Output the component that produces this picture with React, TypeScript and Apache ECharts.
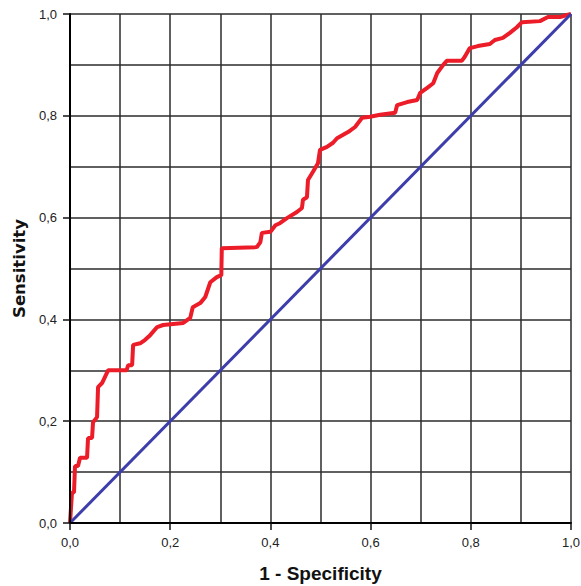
import React, { useEffect, useRef } from "react";
import * as echarts from "echarts";

const fpr = [
  0, 0.004, 0.008, 0.01, 0.016, 0.02, 0.034, 0.036, 0.044, 0.046, 0.054, 0.056, 0.064, 0.076, 0.113, 0.116, 0.124, 0.126, 0.14, 0.15,
  0.16, 0.174, 0.186, 0.226, 0.24, 0.245, 0.26, 0.27, 0.28, 0.293, 0.302, 0.303, 0.373, 0.38, 0.383, 0.4, 0.41, 0.419,
  0.433, 0.453, 0.463, 0.465, 0.473, 0.475, 0.485, 0.495, 0.499, 0.513, 0.525, 0.533, 0.555, 0.569, 0.583, 0.599, 0.619, 0.649, 0.653, 0.673, 0.693,
  0.699, 0.713, 0.725, 0.733, 0.745, 0.752, 0.782, 0.788, 0.798, 0.814, 0.838, 0.848, 0.864, 0.878, 0.892, 0.902, 0.938, 0.954, 0.978, 0.992, 1,
];
const tpr = [
  0, 0.06, 0.06, 0.112, 0.112, 0.128, 0.128, 0.167, 0.167, 0.198, 0.208, 0.267, 0.275, 0.3, 0.3, 0.31, 0.31, 0.35, 0.353, 0.36,
  0.369, 0.385, 0.389, 0.393, 0.403, 0.424, 0.432, 0.444, 0.473, 0.483, 0.487, 0.54, 0.542, 0.552, 0.57, 0.572, 0.585, 0.589,
  0.599, 0.611, 0.619, 0.635, 0.64, 0.674, 0.69, 0.707, 0.733, 0.739, 0.747, 0.756, 0.768, 0.778, 0.796, 0.798, 0.802, 0.806, 0.821, 0.827, 0.831,
  0.845, 0.855, 0.864, 0.884, 0.9, 0.908, 0.908, 0.916, 0.933, 0.937, 0.941, 0.949, 0.953, 0.963, 0.974, 0.984, 0.986, 0.994, 0.994, 0.998, 1,
];
const refX = [0, 1];
const refY = [0, 1];
const labelStep = 0.2;
const gridStep = 0.1;
const xName = "1 - Specificity";
const yName = "Sensitivity";

const fmt = (v: number) => v.toFixed(1).replace(".", ",");

export default function App() {
  const ref = useRef<HTMLDivElement>(null);
  useEffect(() => {
    document.body.style.margin = "0";
    const chart = echarts.init(ref.current!, null, { renderer: "svg" });
    const arial = "'Liberation Sans', Arial, sans-serif";
    const mainAxis = (margin: number) => ({
      type: "value" as const,
      min: 0,
      max: 1,
      interval: labelStep,
      axisLine: { show: true, onZero: false, lineStyle: { color: "#000", width: 2 } },
      axisTick: { show: true, length: 7, lineStyle: { color: "#111", width: 1.5 } },
      axisLabel: {
        formatter: (v: number) => fmt(v),
        fontFamily: arial,
        fontSize: 13,
        color: "#222",
        margin,
      },
      splitLine: { show: false },
      z: 5,
    });
    const gridAxis = () => ({
      type: "value" as const,
      min: 0,
      max: 1,
      interval: gridStep,
      axisLine: { show: false },
      axisTick: { show: false },
      axisLabel: { show: false },
      splitLine: { show: true, lineStyle: { color: "#2b2b2b", width: 1.5 } },
    });
    chart.setOption({
      animation: false,
      backgroundColor: "#fff",
      grid: { left: 70, right: 10, top: 14, bottom: 63, outerBoundsMode: "none", containLabel: false },
      xAxis: [
        {
          ...mainAxis(13),
          position: "bottom",
          name: xName,
          nameLocation: "middle",
          nameGap: 41,
          nameTextStyle: { fontFamily: arial, fontWeight: "bold", fontSize: 19, color: "#111" },
        },
        { ...gridAxis(), position: "top" },
      ],
      yAxis: [
        {
          ...mainAxis(13),
          position: "left",
          name: yName,
          nameLocation: "middle",
          nameGap: 40,
          nameTextStyle: { fontFamily: "'DejaVu Sans', sans-serif", fontWeight: "bold", fontSize: 16.5, color: "#111" },
        },
        { ...gridAxis(), position: "right" },
      ],
      series: [
        {
          type: "line",
          xAxisIndex: 0,
          yAxisIndex: 0,
          data: fpr.map((x, i) => [x, tpr[i]]),
          showSymbol: false,
          lineStyle: { color: "#ec1c28", width: 4 },
          z: 3,
        },
        {
          type: "line",
          xAxisIndex: 0,
          yAxisIndex: 0,
          data: refX.map((x, i) => [x, refY[i]]),
          showSymbol: false,
          lineStyle: { color: "#3d3dab", width: 3 },
          z: 4,
        },
      ],
    });
    return () => chart.dispose();
  }, []);
  return <div ref={ref} style={{ width: 581, height: 586 }} />;
}
